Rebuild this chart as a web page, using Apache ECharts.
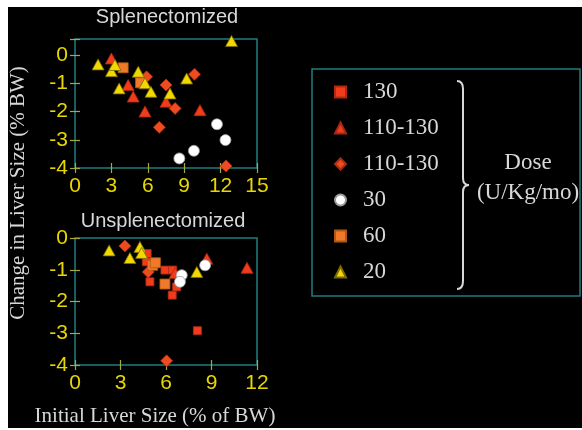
<!DOCTYPE html>
<html>
<head>
<meta charset="utf-8">
<script src="https://cdn.jsdelivr.net/npm/echarts@6/dist/echarts.min.js"></script>
<style>
  html, body { margin: 0; padding: 0; background: #ffffff; }
  #wrap { position: relative; width: 582px; height: 430px; }
  #bg { position: absolute; left: 8px; top: 7px; width: 574px; height: 421px; background: #000; }
  #chart { position: absolute; left: 0; top: 0; width: 582px; height: 430px; }
</style>
</head>
<body>
<div id="wrap">
  <div id="bg"></div>
  <div id="chart"></div>
</div>
<script>
// 剂量分组 (legend)
const doseNames = ["130", "110-130", "110-130 ", "30", "60", "20"];

// Splenectomized: [initial liver size, change]
const spl130 = [];
const splTri110 = [[3.0, -0.12], [4.38, -1.06], [4.8, -1.47], [5.77, -2.0], [7.5, -1.65], [10.3, -1.95]];
const splDia110 = [[5.9, -0.77], [7.5, -1.06], [8.25, -1.89], [6.95, -2.56], [9.85, -0.68], [12.45, -3.93]];
const spl30 = [[8.6, -3.66], [9.8, -3.39], [11.7, -2.45], [12.4, -3.01]];
const spl60 = [[3.97, -0.45], [5.4, -0.98]];
const spl20 = [[1.9, -0.33], [3.0, -0.57], [3.29, -0.35], [3.64, -1.18], [5.21, -0.59], [5.77, -1.0],
               [6.26, -1.3], [7.83, -1.36], [9.2, -0.83], [12.9, 0.5]];

// Unsplenectomized
const uns130 = [[4.76, -0.49], [4.7, -0.75], [5.93, -1.01], [6.44, -1.01], [4.94, -1.38],
                [6.41, -1.8], [6.7, -1.54], [8.07, -2.92]];
const unsTri110 = [[11.34, -0.94], [8.69, -0.65], [6.6, -1.1]];
const unsDia110 = [[3.29, -0.25], [4.83, -1.07], [6.04, -3.87]];
const uns30 = [[7.04, -1.17], [6.92, -1.38], [8.58, -0.86]];
const uns60 = [[5.12, -0.86], [5.3, -0.78], [5.93, -1.45]];
const uns20 = [[2.25, -0.39], [3.62, -0.63], [4.28, -0.28], [4.39, -0.47], [8.03, -1.07]];

// axis ticks
const splXMax = 15, unsXMax = 12, xStep = 3;
const yMin = -4, splYMax = 0.57, unsYMax = 0;

const yellow = "#e8d600";
const frameColor = "#1f7f7f";
const tickColor = "#a8a840";

// 各组样式
const styles = [
  { symbol: "rect",     size: [8, 8],   color: "#f03c1c", border: "#b02a10" },
  { symbol: "triangle", size: [12, 11], color: "#f03c1c", border: "#a82810" },
  { symbol: "diamond",  size: [12, 12], color: "#f04a20", border: "#a83010" },
  { symbol: "circle",   size: 11,       color: "#ffffff", border: "#9a9a9a" },
  { symbol: "rect",     size: [10, 10], color: "#f07a28", border: "#b05818" },
  { symbol: "triangle", size: [12, 11], color: "#f0d800", border: "#7a6a00" },
];
const splData = [spl130, splTri110, splDia110, spl30, spl60, spl20];
const unsData = [uns130, unsTri110, unsDia110, uns30, uns60, uns20];

const series = [];
[splData, unsData].forEach((groups, gi) => {
  groups.forEach((d, i) => {
    const s = styles[i];
    series.push({
      name: doseNames[i],
      type: "scatter",
      xAxisIndex: gi,
      yAxisIndex: gi,
      data: d,
      symbol: s.symbol,
      symbolSize: s.size,
      clip: false,
      itemStyle: { color: s.color, borderColor: s.border, borderWidth: 0.8, opacity: 1 },
      emphasis: { disabled: true },
    });
  });
});

const labelFont = { color: yellow, fontSize: 21, fontFamily: "Liberation Sans" };

// main = 外侧刻度+标签, 否则只画内侧刻度
function xAx(grid, max, main) {
  return {
    type: "value", gridIndex: grid, min: 0, max: max, interval: xStep,
    position: "bottom",
    axisLine: { show: false, onZero: false },
    splitLine: { show: false },
    axisTick: { show: true, inside: !main, length: 5, lineStyle: { color: tickColor, width: 1.2 } },
    axisLabel: main ? Object.assign({ margin: 8 }, labelFont) : { show: false },
  };
}
function yAx(grid, max, main) {
  return {
    type: "value", gridIndex: grid, min: yMin, max: max, interval: 1,
    position: "left",
    axisLine: { show: false, onZero: false },
    splitLine: { show: false },
    axisTick: { show: true, inside: !main, length: 5, lineStyle: { color: tickColor, width: 1.2 } },
    axisLabel: main ? Object.assign({
      margin: 7,
      formatter: (v) => (Number.isInteger(v) ? String(v) : ""),
    }, labelFont) : { show: false },
  };
}

const textColor = "#d8d8d8";
const serif = "Liberation Serif";

const chart = echarts.init(document.getElementById("chart"), null, { renderer: "canvas" });
chart.setOption({
  backgroundColor: "transparent",
  animation: false,
  grid: [
    { left: 75, top: 39, width: 182, height: 129, show: true, borderColor: frameColor, borderWidth: 1.5 },
    { left: 75, top: 238, width: 182, height: 127, show: true, borderColor: frameColor, borderWidth: 1.5 },
  ],
  xAxis: [xAx(0, splXMax, true), xAx(1, unsXMax, true), xAx(0, splXMax, false), xAx(1, unsXMax, false)],
  yAxis: [yAx(0, splYMax, true), yAx(1, unsYMax, true), yAx(0, splYMax, false), yAx(1, unsYMax, false)],
  legend: {
    orient: "vertical",
    left: 334,
    top: 79,
    padding: 0,
    itemWidth: 11,
    itemHeight: 11,
    itemGap: 10,
    selectedMode: false,
    data: doseNames,
    formatter: (n) => n.trim(),
    textStyle: { color: textColor, fontSize: 23, fontFamily: serif, lineHeight: 26, padding: [0, 0, 0, 12] },
  },
  graphic: [
    { type: "text", x: 167, y: 17, style: { text: "Splenectomized", fill: textColor, font: "20px Liberation Sans", textAlign: "center", textVerticalAlign: "middle" } },
    { type: "text", x: 163, y: 221, style: { text: "Unsplenectomized", fill: textColor, font: "20px Liberation Sans", textAlign: "center", textVerticalAlign: "middle" } },
    { type: "text", x: 18, y: 193, rotation: Math.PI / 2, style: { text: "Change in Liver Size (% BW)", fill: textColor, font: "21px Liberation Serif", textAlign: "center", textVerticalAlign: "middle" } },
    { type: "text", x: 155, y: 416, style: { text: "Initial Liver Size (% of BW)", fill: textColor, font: "21px Liberation Serif", textAlign: "center", textVerticalAlign: "middle" } },
    { type: "rect", shape: { x: 312, y: 69, width: 268, height: 227 }, style: { fill: null, stroke: frameColor, lineWidth: 1.5 } },
    // brace
    { type: "bezierCurve", shape: { x1: 457, y1: 81, x2: 463, y2: 89, cpx1: 463, cpy1: 81 }, style: { stroke: textColor, lineWidth: 2, fill: null } },
    { type: "line", shape: { x1: 463, y1: 89, x2: 463, y2: 178 }, style: { stroke: textColor, lineWidth: 2 } },
    { type: "bezierCurve", shape: { x1: 463, y1: 178, x2: 469, y2: 185, cpx1: 463, cpy1: 185 }, style: { stroke: textColor, lineWidth: 2, fill: null } },
    { type: "bezierCurve", shape: { x1: 469, y1: 185, x2: 463, y2: 192, cpx1: 463, cpy1: 185 }, style: { stroke: textColor, lineWidth: 2, fill: null } },
    { type: "line", shape: { x1: 463, y1: 192, x2: 463, y2: 281 }, style: { stroke: textColor, lineWidth: 2 } },
    { type: "bezierCurve", shape: { x1: 463, y1: 281, x2: 457, y2: 289, cpx1: 463, cpy1: 289 }, style: { stroke: textColor, lineWidth: 2, fill: null } },
    { type: "text", x: 528, y: 163, style: { text: "Dose", fill: textColor, font: "23px Liberation Serif", textAlign: "center", textVerticalAlign: "middle" } },
    { type: "text", x: 528, y: 193, style: { text: "(U/Kg/mo)", fill: textColor, font: "23px Liberation Serif", textAlign: "center", textVerticalAlign: "middle" } },
  ],
  series: series,
});
</script>
</body>
</html>
